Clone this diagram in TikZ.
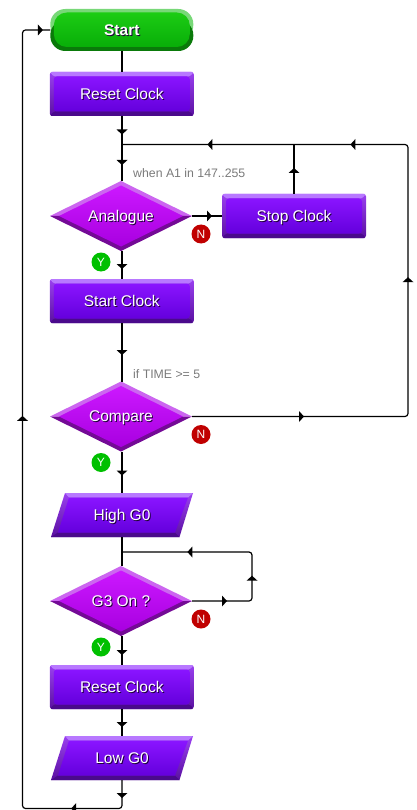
\documentclass[tikz,border=0pt]{standalone}
\usepackage{fontspec}
\setmainfont{Liberation Sans}
\usetikzlibrary{decorations.markings,calc}
\definecolor{pLight}{HTML}{B878FF}
\definecolor{pDark}{HTML}{4A0A8C}
\definecolor{pSideT}{HTML}{9A40F0}
\definecolor{pSideB}{HTML}{5A10A0}
\definecolor{pTop}{HTML}{8A14FF}
\definecolor{pBot}{HTML}{6400DC}
\definecolor{mLight}{HTML}{CC66F0}
\definecolor{mDark}{HTML}{740A96}
\definecolor{mTop}{HTML}{CC18FF}
\definecolor{mBot}{HTML}{A800E0}
\definecolor{gLight}{HTML}{78D878}
\definecolor{gDark}{HTML}{0A7A0A}
\definecolor{gTop}{HTML}{1CCC14}
\definecolor{gBot}{HTML}{08AE08}
\definecolor{txtshadow}{HTML}{20003A}
\definecolor{nRed}{HTML}{C00000}
\definecolor{yGreen}{HTML}{00C000}
\newcommand\shd[1]{\raisebox{-5.3pt}[0pt][0pt]{\makebox[0pt][l]{\raisebox{-1pt}{\hspace{1pt}\textcolor{txtshadow}{#1}}}\textcolor{white}{#1}}}
\newcommand\rectart{
  \shade[top color=pSideT,bottom color=pSideB,rounded corners=2.5pt] (-72,-22) rectangle (72,22);
  \fill[pLight,rounded corners=1.5pt] (-72,-22) -- (72,-22) -- (68,-17.5) -- (-68,-17.5) -- cycle;
  \fill[pDark,rounded corners=1.5pt] (-72,22) -- (72,22) -- (68,17.5) -- (-68,17.5) -- cycle;
  \shade[top color=pTop,bottom color=pBot,rounded corners=3pt] (-68,-17.5) rectangle (68,17.5);
}
\newcommand\diamondart{
  \fill[mLight] (-71,0) -- (0,-35) -- (71,0) -- cycle;
  \fill[mDark] (-71,0) -- (0,35) -- (71,0) -- cycle;
  \shade[top color=mTop,bottom color=mBot] (-62,0) -- (0,-30.5) -- (62,0) -- (0,30.5) -- cycle;
}
\newcommand\paraart{
  \shade[top color=pSideT,bottom color=pSideB] (-57,-22) -- (71,-22) -- (57.5,22) -- (-71,22) -- cycle;
  \fill[pLight] (-57,-22) -- (71,-22) -- (66,-17.5) -- (-53,-17.5) -- cycle;
  \fill[pDark] (-71,22) -- (57.5,22) -- (53,17.5) -- (-64,17.5) -- cycle;
  \shade[top color=pTop,bottom color=pBot] (-53,-17.5) -- (66,-17.5) -- (53,17.5) -- (-64,17.5) -- cycle;
}
\newcommand\startart{
  \fill[gLight,rounded corners=15pt] (-71.5,-21) rectangle (71.5,10);
  \fill[gDark,rounded corners=15pt] (-71.5,-10) rectangle (71.5,21);
  \shade[top color=gTop,bottom color=gBot,rounded corners=13pt] (-68,-17.5) rectangle (68,17);
}
\newcommand\artnode[5]{\begin{scope}[shift={(#3)}]#1\end{scope}\node[#2] (#4) at (#3) {\shd{#5}};}
\tikzset{
  x=1pt,y=-1pt,
  basenode/.style={rectangle,inner sep=0pt,outer sep=0pt,font=\fontsize{15.5}{17}\selectfont,align=center},
  startnode/.style={basenode,minimum width=143pt,minimum height=42pt},
  procnode/.style={basenode,minimum width=144pt,minimum height=44pt},
  decnode/.style={basenode,minimum width=142pt,minimum height=70pt},
  ionode/.style={basenode,minimum width=142pt,minimum height=44pt},
  badge/.style={circle,inner sep=0pt,minimum size=19pt,text=white,font=\fontsize{12}{12}\selectfont},
  nbadge/.style={badge,fill=nRed},
  ybadge/.style={badge,fill=yGreen},
  cond/.style={anchor=west,inner sep=0pt,text=black!52,font=\fontsize{12.3}{14}\selectfont},
  flow/.style={draw=black,line width=1.2pt,rounded corners=3pt},
  arrowat/.style={postaction={decorate,decoration={markings,
    mark=at position #1pt with {\fill[black,sharp corners] (0,-5.5) -- (5,0) -- (0,5.5) -- cycle;}}}},
}
\begin{document}
\begin{tikzpicture}
\useasboundingbox (0,0) rectangle (416,810);
\coordinate (j1) at (122,144.5);
\coordinate (jmid) at (294,144.5);
\coordinate (tr) at (408,144.5);
\coordinate (j2) at (122,552);
\coordinate (g3r) at (252,552);
\coordinate (g3b) at (252,601);
\coordinate (cr) at (408,416.5);
\coordinate (bb) at (122,808.5);
\coordinate (bl) at (22.5,808.5);
\coordinate (tl) at (22.5,30);

\artnode{\startart}{startnode}{121.8,30}{start}{\textbf{Start}}
\artnode{\rectart}{procnode}{121.8,94}{reset1}{Reset Clock}
\artnode{\diamondart}{decnode}{121,216}{analog}{Analogue}
\artnode{\rectart}{procnode}{294,216}{stop}{Stop Clock}
\artnode{\rectart}{procnode}{121.8,301}{startc}{Start Clock}
\artnode{\diamondart}{decnode}{121,416.5}{comp}{Compare}
\artnode{\paraart}{ionode}{122,515}{high}{High G0}
\artnode{\diamondart}{decnode}{121,601}{g3}{G3 On ?}
\artnode{\rectart}{procnode}{121.8,687}{reset2}{Reset Clock}
\artnode{\paraart}{ionode}{122,758}{low}{Low G0}

\node[cond] (c1) at (133,173) {when A1 in 147..255};
\node[cond] (c2) at (133,374) {if TIME >= 5};

\node[nbadge] (n1) at (201,234) {N};
\node[ybadge] (y1) at (101,262) {Y};
\node[nbadge] (n2) at (201,434.5) {N};
\node[ybadge] (y2) at (101,462.5) {Y};
\node[nbadge] (n3) at (201,619) {N};
\node[ybadge] (y3) at (101,647) {Y};

\draw[flow] (start.south -| j1) -- (reset1.north -| j1);
\draw[flow,arrowat=13.5] (reset1.south -| j1) -- (j1);
\draw[flow,arrowat=15.5] (j1) -- (analog.north -| j1);
\draw[flow,arrowat=15] (analog.east) -- (stop.west);
\draw[flow,arrowat=21] (stop.north) -- (jmid);
\draw[flow,arrowat=13] (analog.south -| j1) -- (startc.north -| j1);
\draw[flow,arrowat=27] (startc.south -| j1) -- (comp.north -| j1);
\draw[flow,arrowat=107,arrowat=349,arrowat=538,arrowat=681] (comp.east) -- (cr) -- (tr) -- (j1);
\draw[flow,arrowat=19] (comp.south -| j1) -- (high.north -| j1);
\draw[flow] (high.south -| j1) -- (j2);
\draw[flow] (j2) -- (g3.north -| j1);
\draw[flow,arrowat=30,arrowat=79,arrowat=166] (g3.east) -- (g3b) -- (g3r) -- (j2);
\draw[flow,arrowat=14] (g3.south -| j1) -- (reset2.north -| j1);
\draw[flow,arrowat=13] (reset2.south -| j1) -- (low.north -| j1);
\draw[flow,arrowat=13,arrowat=73,arrowat=513,arrowat=918] (low.south -| j1) -- (bb) -- (bl) -- (tl) -- (start.west);
\end{tikzpicture}
\end{document}
